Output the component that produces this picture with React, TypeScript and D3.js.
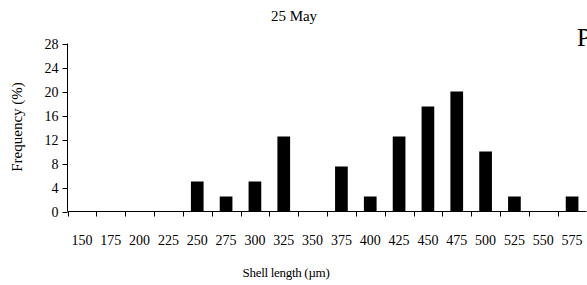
import React, { useEffect, useRef } from 'react';
import * as d3 from 'd3';

// shell length classes (µm)
const lengthClasses = ['150', '175', '200', '225', '250', '275', '300', '325', '350', '375', '400', '425', '450', '475', '500', '525', '550', '575'];
// frequency (%) per class, 25 May
const frequencies = [0, 0, 0, 0, 5, 2.5, 5, 12.5, 0, 7.5, 2.5, 12.5, 17.5, 20, 10, 2.5, 0, 2.5];
const yTicks = [0, 4, 8, 12, 16, 20, 24, 28];

const WIDTH = 587;
const HEIGHT = 285;

export default function App() {
    const svgRef = useRef<SVGSVGElement>(null);

    useEffect(() => {
        if (!svgRef.current) return;
        const svg = d3.select(svgRef.current);
        svg.selectAll('*').remove();

        const left = 67.5;
        const right = 586.5;
        const top = 43.5;
        const bottom = 211.5;
        const font = 'Liberation Serif, Times New Roman, serif';

        const x = d3.scaleBand<string>()
            .domain(lengthClasses)
            .range([left, right])
            .padding(0);

        const y = d3.scaleLinear()
            .domain([0, 28])
            .range([bottom, top]);

        const barW = x.bandwidth() * 0.44;

        // bars
        svg.append('g')
            .selectAll('rect')
            .data(frequencies)
            .enter()
            .append('rect')
            .attr('x', (d, i) => (x(lengthClasses[i]) as number) + x.bandwidth() / 2 - barW / 2)
            .attr('y', d => y(d))
            .attr('width', barW)
            .attr('height', d => bottom - y(d))
            .attr('fill', '#000');

        // y axis
        const yAxis = svg.append('g');
        yAxis.append('line')
            .attr('x1', left).attr('x2', left)
            .attr('y1', top).attr('y2', bottom)
            .attr('stroke', '#000');
        yTicks.forEach(t => {
            const py = Math.round(y(t)) + 0.5;
            yAxis.append('line')
                .attr('x1', left - 5).attr('x2', left)
                .attr('y1', py).attr('y2', py)
                .attr('stroke', '#000');
            yAxis.append('text')
                .attr('x', left - 9)
                .attr('y', py)
                .attr('dy', '0.35em')
                .attr('text-anchor', 'end')
                .attr('font-family', font)
                .attr('font-size', '14px')
                .attr('fill', '#000')
                .text(t);
        });

        // x axis
        const xAxis = svg.append('g');
        xAxis.append('line')
            .attr('x1', left).attr('x2', right)
            .attr('y1', bottom).attr('y2', bottom)
            .attr('stroke', '#000');
        d3.range(lengthClasses.length + 1).forEach(i => {
            const px = Math.round(left + i * x.step()) + 0.5;
            xAxis.append('line')
                .attr('x1', px).attr('x2', px)
                .attr('y1', bottom).attr('y2', bottom + 5)
                .attr('stroke', '#000');
        });
        lengthClasses.forEach(c => {
            xAxis.append('text')
                .attr('x', (x(c) as number) + x.bandwidth() / 2)
                .attr('y', 245)
                .attr('text-anchor', 'middle')
                .attr('font-family', font)
                .attr('font-size', '14px')
                .attr('fill', '#000')
                .text(c);
        });

        // titles
        svg.append('text')
            .attr('x', 294)
            .attr('y', 21)
            .attr('text-anchor', 'middle')
            .attr('font-family', font)
            .attr('font-size', '15px')
            .attr('fill', '#000')
            .text('25 May');

        svg.append('text')
            .attr('x', 286)
            .attr('y', 277)
            .attr('text-anchor', 'middle')
            .attr('font-family', font)
            .attr('font-size', '13px')
            .attr('letter-spacing', '-0.3px')
            .attr('fill', '#000')
            .text('Shell length (µm)');

        svg.append('text')
            .attr('transform', 'translate(22,127) rotate(-90)')
            .attr('text-anchor', 'middle')
            .attr('font-family', font)
            .attr('font-size', '15px')
            .attr('fill', '#000')
            .text('Frequency (%)');

        // panel letter, cut off at the right edge
        svg.append('text')
            .attr('x', 577)
            .attr('y', 46)
            .attr('font-family', font)
            .attr('font-size', '25px')
            .attr('fill', '#000')
            .text('P');
    }, []);

    return (
        <svg
            ref={svgRef}
            width={WIDTH}
            height={HEIGHT}
            style={{ position: 'absolute', left: 0, top: 0, background: '#fff' }}
        />
    );
}
